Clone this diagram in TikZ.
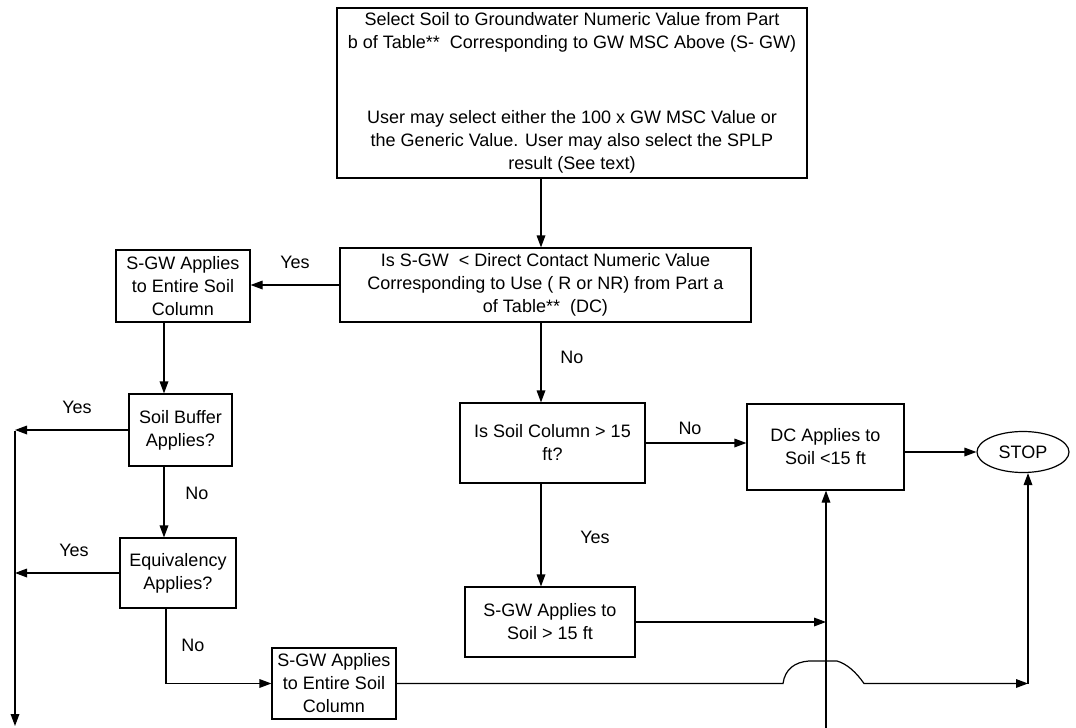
\documentclass[tikz,border=0pt]{standalone}
\usepackage{fontspec}
\setmainfont{Liberation Sans}
\usetikzlibrary{arrows.meta,shapes.geometric}
\begin{document}
\begin{tikzpicture}[x=0.75pt,y=-0.75pt,line width=0.9pt,
    >={Triangle[length=9pt,width=6.5pt]},
    box/.style={draw,rectangle,align=center,inner sep=0pt,font=\fontsize{13.5}{17.25}\selectfont},
    lbl/.style={font=\fontsize{13.5}{17.25}\selectfont}]
  \useasboundingbox (0,0) rectangle (1076,728);
  % boxes
  \node[box,minimum width=470*0.75pt,minimum height=170*0.75pt] (top) at (572,93)
    {Select Soil to Groundwater Numeric Value from Part\\
     b of Table**\ \ Corresponding to GW MSC Above (S- GW)\\[39pt]
     User may select either the 100 x GW MSC Value or\\
     the Generic Value. User may also select the SPLP\\
     result (See text)};
  \node[box,minimum width=411*0.75pt,minimum height=74*0.75pt] (dc) at (545.5,285)
    {Is S-GW\ \ < Direct Contact Numeric Value\\
     Corresponding to Use ( R or NR) from Part a\\
     of Table**\ \ (DC)};
  \node[box,minimum width=134*0.75pt,minimum height=72*0.75pt] (sgwall) at (183,286)
    {S-GW Applies\\ to Entire Soil\\ Column};
  \node[box,minimum width=103*0.75pt,minimum height=72*0.75pt] (buffer) at (180.5,430)
    {Soil Buffer\\ Applies?};
  \node[box,minimum width=116*0.75pt,minimum height=70*0.75pt] (equiv) at (178,573)
    {Equivalency\\ Applies?};
  \node[box,minimum width=124*0.75pt,minimum height=71*0.75pt] (sgwlow) at (334,683.5)
    {S-GW Applies\\ to Entire Soil\\ Column};
  \node[box,minimum width=185*0.75pt,minimum height=80*0.75pt] (soilcol) at (552.5,443)
    {Is Soil Column > 15\\ ft?};
  \node[box,minimum width=157*0.75pt,minimum height=86*0.75pt] (dcapp) at (825.5,447)
    {DC Applies to\\ Soil <15 ft};
  \node[box,minimum width=170*0.75pt,minimum height=70*0.75pt] (sgwdeep) at (550,622)
    {S-GW Applies to\\ Soil > 15 ft};
  \node[box,ellipse,minimum width=92*0.75pt,minimum height=41*0.75pt] (stop) at (1023,452)
    {STOP};
  % labels
  \node[lbl] (yes1) at (295,262) {Yes};
  \node[lbl] (yes2) at (77,407) {Yes};
  \node[lbl] (no1) at (197,493) {No};
  \node[lbl] (yes3) at (74,550) {Yes};
  \node[lbl] (no2) at (193,645) {No};
  \node[lbl] (no3) at (572,357) {No};
  \node[lbl] (no4) at (690,428) {No};
  \node[lbl] (yes4) at (595,537) {Yes};
  % free ends
  \coordinate (lx) at (164,0);
  \coordinate (ex) at (166,0);
  \coordinate (mx) at (541,0);
  \coordinate (lv) at (15,431);
  \coordinate (lvend) at (15,726);
  \coordinate (vx) at (826,728);
  \coordinate (sx) at (1028,683.5);
  \coordinate (hopa) at (783,683.5);
  \coordinate (hopb) at (864,683.5);
  % connectors
  \draw[->] (top.south -| mx) -- (dc.north -| mx);
  \draw[->] (dc.west) -- (dc.west -| sgwall.east);
  \draw[->] (sgwall.south -| lx) -- (buffer.north -| lx);
  \draw[->] (buffer.west) -- (buffer.west -| lv);
  \draw[->] (buffer.south -| lx) -- (equiv.north -| lx);
  \draw[->] (equiv.west) -- (equiv.west -| lv);
  \draw[->] (lv) -- (lvend);
  \draw[->] (equiv.south -| ex) |- (sgwlow.west);
  \draw[->] (dc.south -| mx) -- (soilcol.north -| mx);
  \draw[->] (soilcol.east) -- (soilcol.east -| dcapp.west);
  \draw[->] (dcapp.east |- stop.west) -- (stop.west);
  \draw[->] (soilcol.south -| mx) -- (sgwdeep.north -| mx);
  \draw[->] (sgwdeep.east) -- (sgwdeep.east -| vx);
  \draw[->] (vx) -- (vx |- dcapp.south);
  \draw[->] (sgwlow.east) -- (hopa) .. controls (785,669) and (795,662) .. (809,661)
    -- (837,661) .. controls (847,664) and (856,672) .. (hopb) -- (sx);
  \draw[->] (sx) -- (sx |- stop.south);
\end{tikzpicture}
\end{document}
